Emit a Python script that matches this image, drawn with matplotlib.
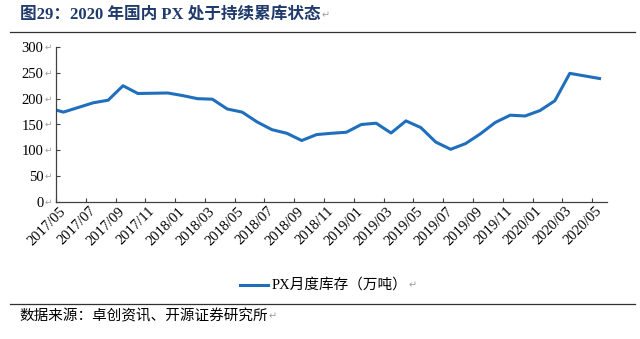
import matplotlib
matplotlib.use("Agg")
import matplotlib.pyplot as plt
from matplotlib.lines import Line2D
from matplotlib.text import Annotation

# monthly PX inventory, 10k tonnes (first value sits just left of the axis)
months = ["2017/04", "2017/05", "2017/06", "2017/07", "2017/08", "2017/09",
          "2017/10", "2017/11", "2017/12", "2018/01", "2018/02", "2018/03",
          "2018/04", "2018/05", "2018/06", "2018/07", "2018/08", "2018/09",
          "2018/10", "2018/11", "2018/12", "2019/01", "2019/02", "2019/03",
          "2019/04", "2019/05", "2019/06", "2019/07", "2019/08", "2019/09",
          "2019/10", "2019/11", "2019/12", "2020/01", "2020/02", "2020/03",
          "2020/04", "2020/05"]
inventory = [182, 174, 183, 192, 197, 225,
             210, 210.5, 211, 206, 200, 199,
             180, 174, 155, 140, 133, 119,
             130.5, 133, 135, 150, 152.5, 133.5,
             157, 144, 116, 102, 113, 132,
             154, 168, 166.5, 177, 196, 249,
             244, 239]
yticks = [0, 50, 100, 150, 200, 250, 300]

title = "图29：2020 年国内 PX 处于持续累库状态"
series_name = "PX月度库存（万吨）"
source = "数据来源：卓创资讯、开源证券研究所"

serif = ["Liberation Serif", "Noto Sans CJK SC", "DejaVu Sans"]
mark_font = ["DejaVu Sans"]
mark_color = "#a0a0a0"
blue = "#1f6fbd"
fs = 10.5


def month_pos(m):
    # months since 2017/05, centred in the month
    y, mo = m.split("/")
    return (int(y) - 2017) * 12 + int(mo) - 5 + 0.5


x = [month_pos(m) for m in months]

fig = plt.figure(figsize=(6.4, 3.39), dpi=100)
ax = fig.add_axes([56 / 640, 1 - 202 / 339, 551 / 640, 155 / 339])

ax.plot(x, inventory, color=blue, lw=2.2, solid_joinstyle="round")
ax.set_xlim(0, 37)
ax.set_ylim(0, 300)

for s in ["top", "right"]:
    ax.spines[s].set_visible(False)
for s in ["left", "bottom"]:
    ax.spines[s].set_color("#404040")
    ax.spines[s].set_linewidth(0.9)

# y axis: numbers plus grey paragraph marks
ax.set_yticks(yticks)
ax.set_yticklabels([str(v) for v in yticks], family=serif, fontsize=fs)
ax.tick_params(axis="y", direction="in", length=3, width=0.8,
               color="#404040", pad=9)
for v in yticks:
    ax.annotate("↵", xy=(0, v), xycoords=("axes fraction", "data"),
                xytext=(-8.5, 0), textcoords="offset points",
                ha="left", va="center", fontsize=6.5,
                family=mark_font, color=mark_color)

# x axis: ticks every two months, labels centred in the labelled month
ax.set_xticks(range(0, 37, 2))
ax.set_xticklabels([])
ax.tick_params(axis="x", direction="in", length=3, width=0.8,
               color="#404040")
for i, (m, xp) in enumerate(zip(months, x)):
    if i % 2 == 1:
        ax.text(xp, -14, m, rotation=45, rotation_mode="anchor",
                ha="right", va="center", family=serif, fontsize=fs,
                transform=ax.transData, clip_on=False)

# legend
leg_y = 1 - 285 / 339
fig.add_artist(Line2D([240 / 640, 268 / 640], [leg_y, leg_y],
                      color=blue, lw=2.2))
t_leg = fig.text(272 / 640, leg_y, series_name, family=serif,
                 fontsize=fs, va="center", ha="left")

# title and rules
t_title = fig.text(20 / 640, 1 - 15 / 339, title, family=serif,
                   fontsize=12, weight="bold", color="#1f3a6b",
                   va="center", ha="left")
fig.add_artist(Line2D([10 / 640, 635 / 640], [1 - 32 / 339, 1 - 32 / 339],
                      color="#303030", lw=0.9))
fig.add_artist(Line2D([10 / 640, 635 / 640], [1 - 304 / 339, 1 - 304 / 339],
                      color="#303030", lw=0.9))
t_src = fig.text(19 / 640, 1 - 316 / 339, source, family=serif,
                 fontsize=fs, va="center", ha="left")

for t in [t_title, t_leg, t_src]:
    fig.add_artist(Annotation("↵", xy=(1, 0.5), xycoords=t,
                              xytext=(0.5, 0), textcoords="offset points",
                              ha="left", va="center", fontsize=7,
                              family=mark_font, color=mark_color))

fig.savefig("out.png", dpi=100)
